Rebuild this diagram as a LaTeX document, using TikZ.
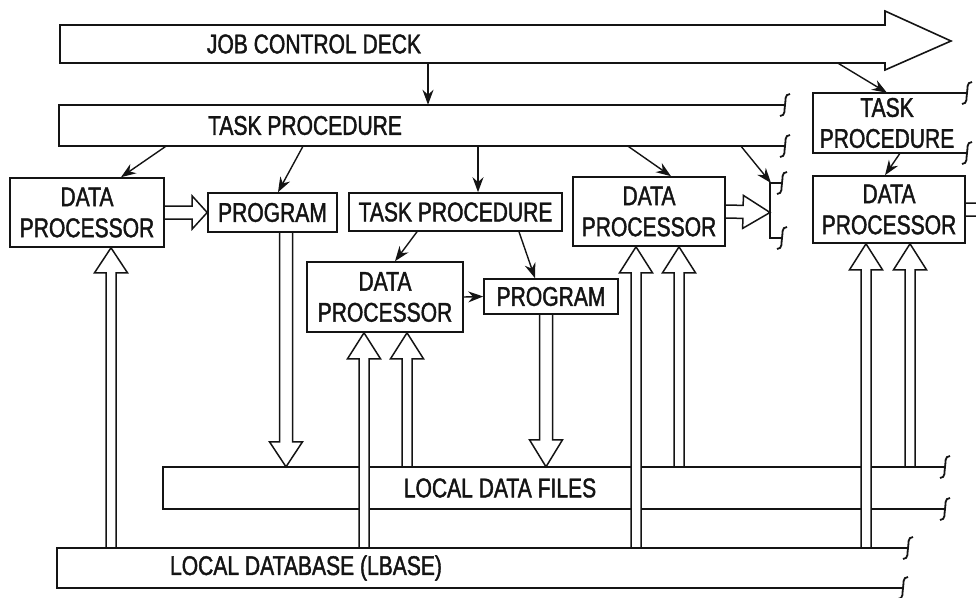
\documentclass[tikz,border=0pt]{standalone}
\usepackage{fontspec}
\setmainfont[FakeStretch=0.78, FakeBold=1.5]{Liberation Sans}
\usepackage{xcolor}
\definecolor{ink}{RGB}{ 20,  20,  20}
\usepackage{tikz}
\usetikzlibrary{
  arrows.meta, positioning, calc
}
\newcommand\boxfont{\fontsize{27}{31}\selectfont}
\tikzset{
  box/.style={draw=ink, line width=1.6pt, inner sep=0pt, align=center, font=\boxfont, text=ink},
  lbl/.style={inner sep=0pt, align=center, font=\boxfont, text=ink},
  band/.style={draw=ink, line width=1.6pt},
  link/.style={draw=ink, line width=1.4pt, -{Stealth[length=15pt, width=11pt]}},
  fat/.style={draw=ink, line width=1.5pt, line join=miter},
  cut/.pic={\draw[ink, line width=1.8pt] (5,-11) .. controls (-1,-11) and (1,-4) .. (0,0)
    .. controls (-1,4) and (1,11) .. (-5,11);}
}
\newcommand\fatarrow[5][]{%
  \path (#2) coordinate (ft) (#3) coordinate (fh);
  \path ($(fh)!#5!(ft)$) coordinate (fb);
  \draw[fat, #1] ($(ft)!#4!90:(fh)$) -- ($(fb)!#4!90:(fh)$) -- ($(fb)!16.5pt!90:(fh)$)
    -- (fh) -- ($(fb)!16.5pt!-90:(fh)$) -- ($(fb)!#4!-90:(fh)$) -- ($(ft)!#4!-90:(fh)$);
}

\begin{document}
\begin{tikzpicture}[x=1pt, y=-1pt]
    \useasboundingbox (0,0) rectangle (976,597);
    \clip (0,0) rectangle (976,597);

    \node[lbl, minimum height=38pt] (jcd) at (314,44) {JOB CONTROL DECK};
    \node[lbl, minimum height=41pt] (tproc) at (305,125.5) {TASK PROCEDURE};
    \node[lbl, minimum height=42pt] (ldf) at (500,488) {LOCAL DATA FILES};
    \node[lbl, minimum height=40pt] (lbase) at (306,568) {LOCAL DATABASE (LBASE)};
    \node[lbl, minimum height=60pt] (tp4) at (887,123) {TASK\\PROCEDURE};

    \node[box, minimum width=154pt, minimum height=69pt] (dp1) at (87,212.5) {DATA\\PROCESSOR};
    \node[box, minimum width=129pt, minimum height=39pt] (prog1) at (272.5,212.5) {PROGRAM};
    \node[box, minimum width=213pt, minimum height=38pt] (tp2) at (455.5,212) {TASK PROCEDURE};
    \node[box, minimum width=156pt, minimum height=70pt] (dp2) at (385,297) {DATA\\PROCESSOR};
    \node[box, minimum width=134pt, minimum height=35pt] (prog2) at (551,296.5) {PROGRAM};
    \node[box, minimum width=152pt, minimum height=69pt] (dp3) at (649,211.5) {DATA\\PROCESSOR};
    \node[box, minimum width=152pt, minimum height=67pt] (dp4) at (889,209.5) {DATA\\PROCESSOR};

    \coordinate (brk) at (770,212.5);
    \coordinate (brktop) at (771,183);

    \draw[band] (60,25) -- (885,25) -- (885,11) -- (951,41) -- (885,70) -- (885,63) -- (60,63) -- cycle;
    \draw[band] (785,105) -- (59,105) -- (59,146) -- (785,146);
    \draw[band] (967,93) -- (813,93) -- (813,153) -- (967,153);
    \draw[band] (782,183) -- (770,183) -- (770,238) -- (782,238);
    \draw[band] (945,467) -- (163,467) -- (163,509) -- (945,509);
    \pic at (785,105) {cut};
    \pic at (785,146) {cut};
    \pic at (967,93) {cut};
    \pic at (967,153) {cut};
    \pic at (782,183) {cut};
    \pic at (782,238) {cut};
    \pic at (945,467) {cut};
    \pic at (945,509) {cut};

    \draw[link] (428,0 |- jcd.south) -- (428,0 |- tproc.north);
    \draw[link] (838,0 |- jcd.south) -- (tp4.north);
    \draw[link] (166,0 |- tproc.south) -- (121,0 |- dp1.north);
    \draw[link] (303,0 |- tproc.south) -- (278,0 |- prog1.north);
    \draw[link] (478,0 |- tproc.south) -- (478,0 |- tp2.north);
    \draw[link] (628,0 |- tproc.south) -- (671,0 |- dp3.north);
    \draw[link] (741,0 |- tproc.south) -- (brktop);
    \draw[link] (417,0 |- tp2.south) -- (395,0 |- dp2.north);
    \draw[link] (519,0 |- tp2.south) -- (535,0 |- prog2.north);
    \draw[link] (dp2.east) -- (prog2.west);
    \draw[link] (900,0 |- tp4.south) -- (885,0 |- dp4.north);

    \fatarrow{dp1.east}{prog1.west}{6.5pt}{15pt}
    \fatarrow{dp3.east}{brk}{6.5pt}{27pt}
    \fatarrow{dp4.east}{1005,209.5}{6.5pt}{25pt}
    \fatarrow{286,0 |- prog1.south}{286,0 |- ldf.north}{6.5pt}{25pt}
    \fatarrow{546,0 |- prog2.south}{546,0 |- ldf.north}{6.5pt}{27pt}
    \fatarrow{111,0 |- lbase.north}{111,0 |- dp1.south}{5pt}{25pt}
    \fatarrow[fill=white]{364,0 |- lbase.north}{364,0 |- dp2.south}{5pt}{26pt}
    \fatarrow{407,0 |- ldf.north}{407,0 |- dp2.south}{5pt}{26pt}
    \fatarrow[fill=white]{636,0 |- lbase.north}{636,0 |- dp3.south}{5pt}{26pt}
    \fatarrow{679,0 |- ldf.north}{679,0 |- dp3.south}{5pt}{26pt}
    \fatarrow[fill=white]{866,0 |- lbase.north}{866,0 |- dp4.south}{5pt}{26pt}
    \fatarrow{910,0 |- ldf.north}{910,0 |- dp4.south}{5pt}{26pt}

    \draw[band] (908,548) -- (57,548) -- (57,588) -- (903,588);
    \pic at (908,548) {cut};
    \pic at (903,588) {cut};
\end{tikzpicture}
\end{document}
